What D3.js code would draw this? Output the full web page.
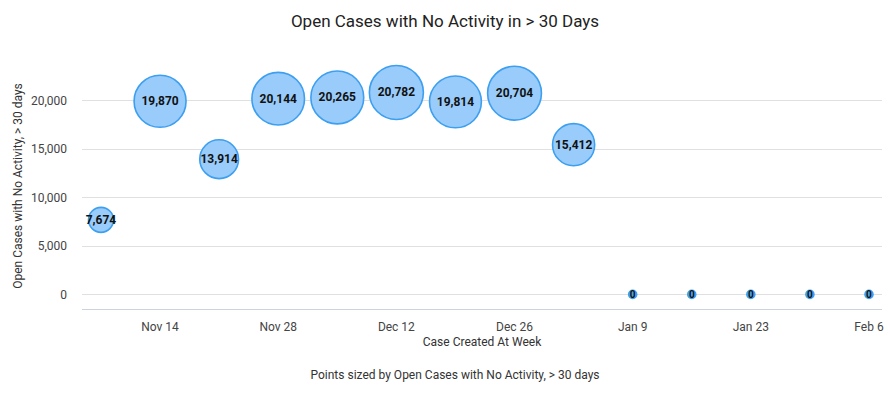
<!DOCTYPE html>
<html>
<head>
<meta charset="utf-8">
<script src="https://cdn.jsdelivr.net/npm/d3@7"></script>
<style>
  body { margin: 0; background: #fff; }
  svg { display: block; font-family: Roboto, "Noto Sans", sans-serif; }
</style>
</head>
<body>
<div id="chart"></div>
<script>
// weekly buckets, value = open cases with no activity > 30 days
const weeks = ["2021-11-07", "2021-11-14", "2021-11-21", "2021-11-28", "2021-12-05",
    "2021-12-12", "2021-12-19", "2021-12-26", "2022-01-02", "2022-01-09",
    "2022-01-16", "2022-01-23", "2022-01-30", "2022-02-06"];
const openCases = [7674, 19870, 13914, 20144, 20265, 20782, 19814, 20704, 15412, 0, 0, 0, 0, 0];
const yTicks = [0, 5000, 10000, 15000, 20000];
const xTickWeeks = ["2021-11-14", "2021-11-28", "2021-12-12", "2021-12-26", "2022-01-09", "2022-01-23", "2022-02-06"];

const width = 890, height = 393;
const plot = { left: 82, right: 882, top: 50, bottom: 309 };
const parse = d3.timeParse("%Y-%m-%d");

const data = weeks.map((w, i) => ({ date: parse(w), value: openCases[i] }));

const svg = d3.select("#chart")
    .append("svg")
    .attr("width", width)
    .attr("height", height);

const x = d3.scaleTime()
    .domain([d3.timeHour.offset(parse("2021-11-07"), -54), d3.timeHour.offset(parse("2022-02-06"), 37)])
    .range([plot.left, plot.right]);

const y = d3.scaleLinear()
    .domain([-1500, 25150])
    .range([plot.bottom, plot.top]);

const r = d3.scaleLinear()
    .domain([0, d3.max(openCases)])
    .range([4, 27]);

// gridlines
svg.append("g")
    .selectAll("line")
    .data(yTicks)
    .enter()
    .append("line")
    .attr("x1", plot.left)
    .attr("x2", plot.right)
    .attr("y1", d => Math.round(y(d)) + 0.5)
    .attr("y2", d => Math.round(y(d)) + 0.5)
    .attr("stroke", "#e0e0e0")
    .attr("stroke-width", 1);

// baseline
svg.append("line")
    .attr("x1", plot.left)
    .attr("x2", plot.right)
    .attr("y1", plot.bottom + 0.5)
    .attr("y2", plot.bottom + 0.5)
    .attr("stroke", "#ccd3dc")
    .attr("stroke-width", 1);

// y axis tick labels
const fmt = d3.format(",");
svg.append("g")
    .selectAll("text")
    .data(yTicks)
    .enter()
    .append("text")
    .attr("x", 67)
    .attr("y", d => y(d) + 4.5)
    .attr("text-anchor", "end")
    .style("font-size", "12px")
    .style("fill", "#444")
    .text(d => fmt(d));

// x axis tick labels
const xfmt = d3.timeFormat("%b %-d");
svg.append("g")
    .selectAll("text")
    .data(xTickWeeks.map(parse))
    .enter()
    .append("text")
    .attr("x", d => x(d))
    .attr("y", 331)
    .attr("text-anchor", "middle")
    .style("font-size", "12px")
    .style("fill", "#444")
    .text(d => xfmt(d));

// bubbles
const bubble = svg.append("g")
    .selectAll("g")
    .data(data)
    .enter()
    .append("g")
    .attr("transform", d => `translate(${x(d.date)},${y(d.value)})`);

bubble.append("circle")
    .attr("r", d => r(d.value))
    .attr("fill", d => d.value ? "#99ccfa" : "#4da6f2")
    .attr("stroke", "#3d9ff0")
    .attr("stroke-width", 1.6);

bubble.append("text")
    .attr("dy", d => d.value ? 4 : 3.5)
    .attr("text-anchor", "middle")
    .style("font-size", d => d.value ? "12px" : "10px")
    .style("font-weight", "bold")
    .style("fill", "#111")
    .text(d => fmt(d.value));

// title
svg.append("text")
    .attr("x", width / 2)
    .attr("y", 27)
    .attr("text-anchor", "middle")
    .style("font-size", "17px")
    .style("fill", "#222")
    .text("Open Cases with No Activity in > 30 Days");

// axis titles
svg.append("text")
    .attr("x", 482)
    .attr("y", 346)
    .attr("text-anchor", "middle")
    .style("font-size", "12px")
    .style("fill", "#333")
    .text("Case Created At Week");

svg.append("text")
    .attr("transform", "translate(22,186) rotate(-90)")
    .attr("text-anchor", "middle")
    .style("font-size", "12px")
    .style("fill", "#333")
    .text("Open Cases with No Activity, > 30 days");

svg.append("text")
    .attr("x", 455)
    .attr("y", 379)
    .attr("text-anchor", "middle")
    .style("font-size", "12px")
    .style("fill", "#333")
    .text("Points sized by Open Cases with No Activity, > 30 days");
</script>
</body>
</html>
